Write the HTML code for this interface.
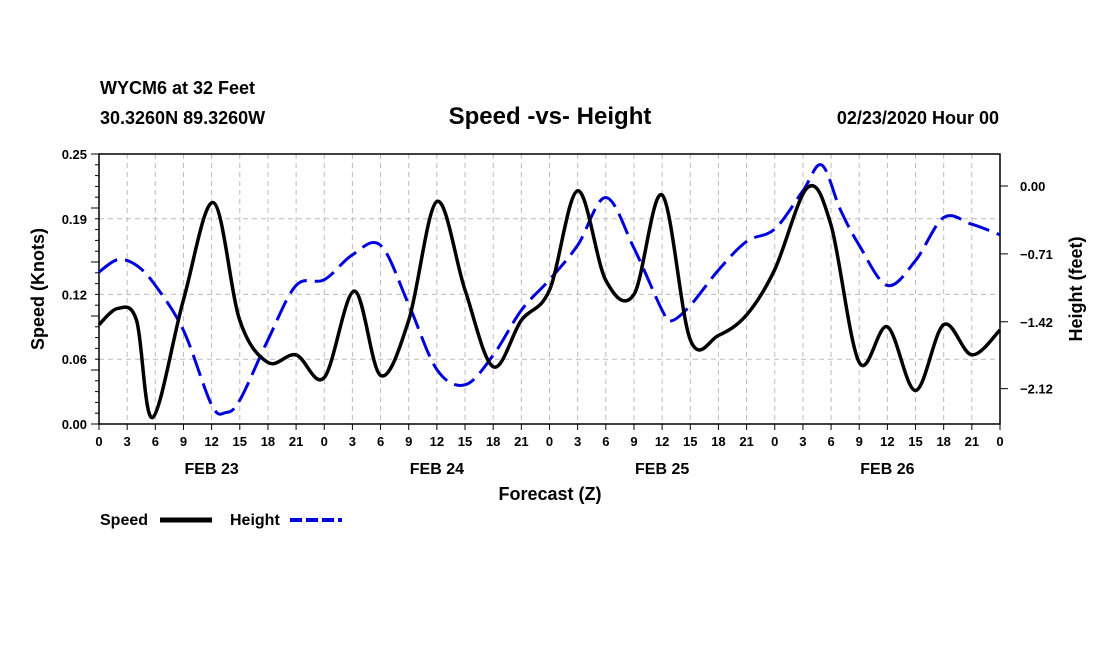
<!DOCTYPE html>
<html><head><meta charset="utf-8"><style>
body{margin:0;background:#fff;}
svg{display:block;font-family:"Liberation Sans",sans-serif;}
</style></head><body>
<svg id="chart" width="1100" height="650">
<text x="100" y="94" font-size="18" font-weight="bold">WYCM6 at 32 Feet</text>
<text x="100" y="124" font-size="18" font-weight="bold">30.3260N 89.3260W</text>
<text x="550" y="124" font-size="24" font-weight="bold" text-anchor="middle">Speed -vs- Height</text>
<text x="999" y="124" font-size="18" font-weight="bold" text-anchor="end">02/23/2020 Hour 00</text>
<g id="grid"></g><g id="axes"></g><g id="series"></g>
<text x="550" y="500" font-size="18" font-weight="bold" text-anchor="middle">Forecast (Z)</text>
<text transform="translate(44,289) rotate(-90)" font-size="18" font-weight="bold" text-anchor="middle">Speed (Knots)</text>
<text transform="translate(1082,289) rotate(-90)" font-size="18" font-weight="bold" text-anchor="middle">Height (feet)</text>
<g><text x="100" y="525" font-size="16" font-weight="bold">Speed</text><line x1="160" y1="520" x2="212" y2="520" stroke="#000" stroke-width="5"/></g>
<g><text x="230" y="525" font-size="16" font-weight="bold">Height</text><line x1="290" y1="520" x2="342" y2="520" stroke="#0000dd" stroke-width="4" stroke-dasharray="12,4"/></g>
</svg>
<script>
const speedHours=[0,2,4,5.7,9,12.2,15,18,21,24,27.2,30,33,36,39,42,45,48,51,54,57,60,63,66,69,72,75.5,78,81,84,87,90,93,96];
const speedValues=[0.092,0.107,0.096,0.006,0.115,0.205,0.096,0.057,0.064,0.043,0.123,0.045,0.096,0.206,0.124,0.053,0.096,0.124,0.216,0.133,0.12,0.212,0.078,0.082,0.101,0.143,0.219,0.184,0.057,0.09,0.031,0.092,0.064,0.087];
const heightHours=[0,2,4,6,9,12,13.5,15,18,21,24,27,30,33,36,39,42,45,48,51,54,57,60,61,63,66,69,72,75,77,79,81,84,87,90,93,96];
const heightValues=[-0.90,-0.77,-0.83,-1.04,-1.51,-2.29,-2.37,-2.24,-1.61,-1.04,-0.98,-0.72,-0.62,-1.24,-1.92,-2.08,-1.77,-1.30,-0.98,-0.62,-0.12,-0.65,-1.30,-1.41,-1.25,-0.88,-0.58,-0.45,-0.05,0.22,-0.25,-0.62,-1.04,-0.78,-0.33,-0.40,-0.51];
const leftTicks=["0.00","0.06","0.12","0.19","0.25"];
const rightTicks=["0.00","-0.71","-1.42","-2.12"];
const dayLabels=["FEB 23","FEB 24","FEB 25","FEB 26"];

const X0=99,X1=1000,Y0=424,Y1=154,NS="http://www.w3.org/2000/svg";
const xs=h=>X0+(X1-X0)*h/96;
const ys=v=>Y0-(Y0-Y1)*v/0.25;
const yh=f=>186-f*95.6;
function mk(tag,attrs,parent){const e=document.createElementNS(NS,tag);for(const k in attrs)e.setAttribute(k,attrs[k]);document.getElementById(parent).appendChild(e);return e;}
for(let i=1;i<32;i++){const g=mk('line',{x1:xs(i*3),x2:xs(i*3),y1:Y1,y2:Y0,stroke:'#bbb','stroke-dasharray':'5,4'},'grid');

}
leftTicks.forEach(t=>{const y=ys(parseFloat(t));if(y>Y1+1&&y<Y0-1){const g=mk('line',{x1:X0,x2:X1,y1:y,y2:y,stroke:'#bbb','stroke-dasharray':'5,4'},'grid');

}});
const fr=mk('rect',{x:X0,y:Y1,width:X1-X0,height:Y0-Y1,fill:'none',stroke:'#000','stroke-width':1.5},'axes');


for(let i=0;i<=25;i++){const y=ys(i*0.01);mk('line',{x1:X0-(i%5==0?8:4),x2:X0,y1:y,y2:y,stroke:'#000'},'axes');}
leftTicks.forEach(t=>{const tx=mk('text',{x:X0-12,y:ys(parseFloat(t))+5,'font-size':13,'font-weight':'bold','text-anchor':'end'},'axes');tx.textContent=t;

});
rightTicks.forEach(t=>{const y=yh(parseFloat(t));mk('line',{x1:X1,x2:X1+8,y1:y,y2:y,stroke:'#000'},'axes');
const tx=mk('text',{x:X1+20,y:y+5,'font-size':13,'font-weight':'bold'},'axes');tx.textContent=t.replace('-','\u2212');

});
for(let i=0;i<=32;i++){const x=xs(i*3);mk('line',{x1:x,x2:x,y1:Y0,y2:Y0+6,stroke:'#000'},'axes');
const tx=mk('text',{x:x,y:Y0+22,'font-size':13,'font-weight':'bold','text-anchor':'middle'},'axes');tx.textContent=String((i%8)*3);

}
dayLabels.forEach((d,i)=>{const tx=mk('text',{x:xs(i*24+12),y:Y0+50,'font-size':16,'font-weight':'bold','text-anchor':'middle'},'axes');tx.textContent=d;

});
function smooth(pts){let d=`M${pts[0][0]},${pts[0][1]}`;for(let i=0;i<pts.length-1;i++){const p0=pts[Math.max(0,i-1)],p1=pts[i],p2=pts[i+1],p3=pts[Math.min(pts.length-1,i+2)];
d+=` C${p1[0]+(p2[0]-p0[0])/6},${p1[1]+(p2[1]-p0[1])/6} ${p2[0]-(p3[0]-p1[0])/6},${p2[1]-(p3[1]-p1[1])/6} ${p2[0]},${p2[1]}`;}return d;}
const hp=mk('path',{d:smooth(heightHours.map((h,i)=>[xs(h),yh(heightValues[i])])),fill:'none',stroke:'#0000dd','stroke-width':3,'stroke-dasharray':'22,8'},'series');


const sp=mk('path',{d:smooth(speedHours.map((h,i)=>[xs(h),ys(speedValues[i])])),fill:'none',stroke:'#000','stroke-width':3.5},'series');


</script>
</body></html>
